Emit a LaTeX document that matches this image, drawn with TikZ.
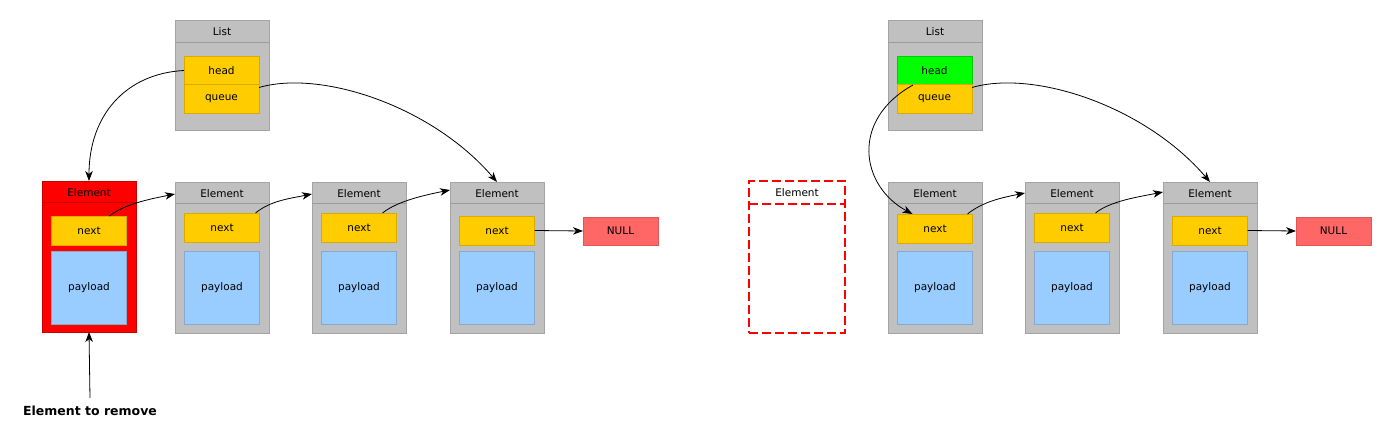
\documentclass[tikz,border=0pt]{standalone}
\usepackage{fontspec}
\setmainfont{DejaVu Sans}
\usetikzlibrary{arrows.meta,calc}
\definecolor{boxgray}{HTML}{C0C0C0}
\definecolor{graybd}{HTML}{A4A4A4}
\definecolor{sepgray}{HTML}{9C9C9C}
\definecolor{ylw}{HTML}{FFCC00}
\definecolor{ylwbd}{HTML}{D9AA00}
\definecolor{blu}{HTML}{99CCFF}
\definecolor{blubd}{HTML}{86A9CC}
\definecolor{redbox}{HTML}{FF0000}
\definecolor{redbd}{HTML}{C80000}
\definecolor{nullred}{HTML}{FF6666}
\definecolor{nullbd}{HTML}{E05555}
\definecolor{grn}{HTML}{00FF00}
\definecolor{grnbd}{HTML}{00CC00}
\newcommand\mkelem[6]{%
  \node[elbox,#5,anchor=north west] (#1) at (#2,#3) {};
  \draw[#6, line width=0.7pt] ([yshift=-21pt]#1.north west) -- ([yshift=-21pt]#1.north east);
  \node[titletext] (#1t) at ([yshift=-11.5pt]#1.north) {Element};
  \node[nextbox] (#1n) at ({#2+47},{#4+14.5}) {next};
  \node[paybox] (#1p) at ({#2+47},287.5) {payload};
}
\begin{document}
\begin{tikzpicture}[x=1pt,y=-1pt,
  every node/.style={font=\fontsize{10.5}{12}\selectfont, text=black},
  arr/.style={draw=black, line width=0.8pt, -{Stealth[length=10pt,width=7.5pt,inset=3pt]}},
  elbox/.style={rectangle, draw=graybd, fill=boxgray, line width=0.8pt, minimum width=94pt, minimum height=151pt, inner sep=0pt, outer sep=0pt},
  redel/.style={draw=redbd, fill=redbox},
  listbox/.style={rectangle, draw=graybd, fill=boxgray, line width=0.8pt, minimum width=94pt, minimum height=110pt, inner sep=0pt, outer sep=0pt},
  titletext/.style={inner sep=0pt},
  nextbox/.style={rectangle, draw=ylwbd, fill=ylw, line width=0.8pt, minimum width=75pt, minimum height=29pt, inner sep=0pt, outer sep=0pt},
  headbox/.style={nextbox},
  greenbox/.style={rectangle, draw=grnbd, fill=grn, line width=0.8pt, minimum width=75pt, minimum height=29pt, inner sep=0pt, outer sep=0pt},
  paybox/.style={rectangle, draw=blubd, fill=blu, line width=0.8pt, minimum width=75pt, minimum height=73pt, inner sep=0pt, outer sep=0pt},
  nullbox/.style={rectangle, draw=nullbd, fill=nullred, line width=0.8pt, minimum width=75pt, minimum height=28pt, inner sep=0pt, outer sep=0pt},
  ghost/.style={rectangle, draw=red, line width=1.8pt, dash pattern=on 9pt off 4pt, minimum width=96pt, minimum height=152pt, inner sep=0pt, outer sep=0pt}
]
\useasboundingbox (0,0) rectangle (1398,428);
% ---------------- left: list
\node[listbox, anchor=north west] (llist) at (175,20) {};
\draw[sepgray, line width=0.7pt] ([yshift=-22pt]llist.north west) -- ([yshift=-22pt]llist.north east);
\node[titletext] (llistt) at ([yshift=-11.5pt]llist.north) {List};
\node[headbox] (lhead) at (221.5,70.5) {head};
\node[headbox] (lqueue) at (221.5,99) {queue};
% ---------------- left: elements
\mkelem{el1}{42}{181}{216}{redel}{redbd}
\mkelem{el2}{175}{182}{213}{}{sepgray}
\mkelem{el3}{312}{182}{213}{}{sepgray}
\mkelem{el4}{450}{182}{216}{}{sepgray}
\node[nullbox] (lnull) at (620.5,231) {NULL};
\node[font=\fontsize{12.5}{14}\selectfont\bfseries, inner sep=2pt] (remlabel) at (90,411) {Element to remove};
% ---------------- left: connectors
\draw[arr] (lhead.west) .. controls +(-58,3) and +(0,-66) .. (el1.north);
\draw[arr] ([yshift=-3pt]lqueue.north east) .. controls +(62,-18) and +(-65,-76) .. (el4.north);
\draw[arr] ([xshift=-17pt]el1n.north east) .. controls +(15,-12) and +(-25,5) .. ([yshift=-12pt]el2.north west);
\draw[arr] ([xshift=-4pt]el2n.north east) .. controls +(15,-12) and +(-25,5) .. ([yshift=-12pt]el3.north west);
\draw[arr] ([xshift=-14pt]el3n.north east) .. controls +(15,-12) and +(-25,5) .. ([yshift=-8pt]el4.north west);
\draw[arr] (el4n.east) -- (lnull.west);
\draw[arr] ([yshift=6pt]remlabel.north) -- (el1.south);
% ---------------- right: list
\node[listbox, anchor=north west] (rlist) at (888,20) {};
\draw[sepgray, line width=0.7pt] ([yshift=-22pt]rlist.north west) -- ([yshift=-22pt]rlist.north east);
\node[titletext] (rlistt) at ([yshift=-11.5pt]rlist.north) {List};
\node[greenbox] (rhead) at (934.5,70.5) {head};
\node[headbox] (rqueue) at (934.5,99) {queue};
% ---------------- right: removed element
\node[ghost, anchor=north west] (ghostel) at (749,181) {};
\draw[red, line width=1.8pt, dash pattern=on 9pt off 4pt] ([yshift=-23pt]ghostel.north west) -- ([yshift=-23pt]ghostel.north east);
\node[titletext] (ghostt) at ([yshift=-12pt]ghostel.north) {Element};
% ---------------- right: elements
\mkelem{rel1}{888}{182}{214}{}{sepgray}
\mkelem{rel2}{1025}{182}{213}{}{sepgray}
\mkelem{rel3}{1163}{182}{216}{}{sepgray}
\node[nullbox] (rnull) at (1333.5,231) {NULL};
% ---------------- right: connectors
\draw[arr] ([xshift=16pt]rhead.south west) .. controls +(-63,35) and +(-52,-28) .. ([xshift=15pt]rel1n.north west);
\draw[arr] ([yshift=-3pt]rqueue.north east) .. controls +(62,-18) and +(-65,-76) .. (rel3.north);
\draw[arr] ([xshift=-5pt]rel1n.north east) .. controls +(15,-12) and +(-25,5) .. ([yshift=-11pt]rel2.north west);
\draw[arr] ([xshift=-14pt]rel2n.north east) .. controls +(15,-12) and +(-25,5) .. ([yshift=-10pt]rel3.north west);
\draw[arr] (rel3n.east) -- (rnull.west);
\end{tikzpicture}
\end{document}
